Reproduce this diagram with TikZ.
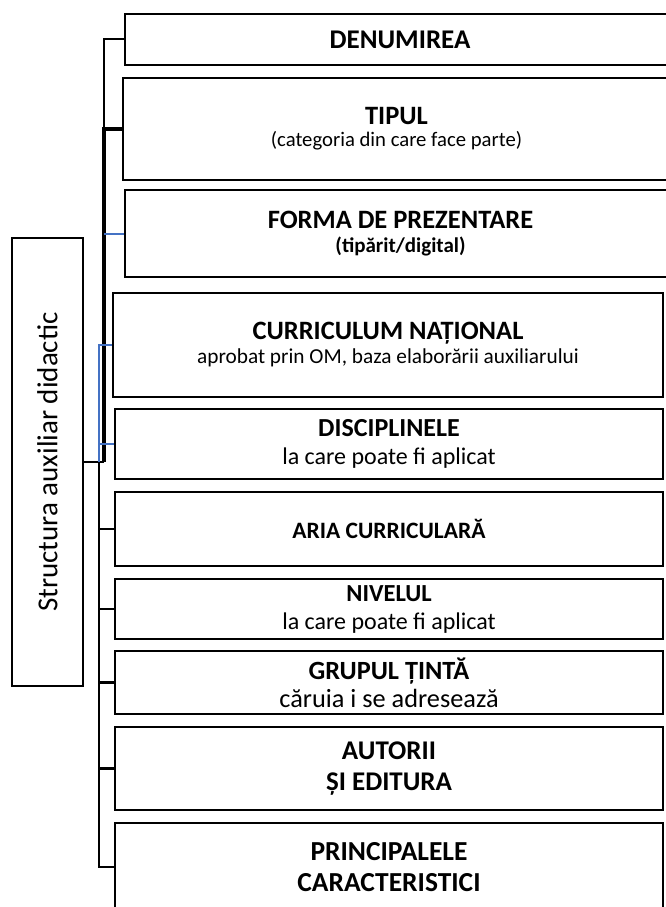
\documentclass[tikz,border=0pt]{standalone}
\usepackage{fontspec}
\setmainfont{Carlito}
\definecolor{linkblue}{RGB}{68,114,196}

\begin{document}
\begin{tikzpicture}[x=1pt,y=-1pt,
    box/.style={draw, line width=2.6pt, rectangle, minimum width=548, align=center, inner sep=0pt},
    link/.style={line width=2.4pt},
    bluelink/.style={draw=linkblue, line width=2pt},
    big/.style={font=\bfseries\fontsize{27}{31}\selectfont},
  ]
  \clip (0,0) rectangle (666,907);
  % root
  \node[box, line width=2.2pt, rotate=90, minimum width=448, minimum height=71, font=\fontsize{29}{35}\selectfont] (structura) at (47.5,462) {Structura auxiliar didactic};
  % items
  \node[box, minimum width=550, minimum height=51, big] (denumire) at (400,39.5) {DENUMIREA};
  \node[box, minimum width=547, minimum height=102, font=\fontsize{20.7}{22}\selectfont] (tip) at (396.5,129)
    {{\bfseries\fontsize{26.5}{31}\selectfont TIPUL}\\(categoria din care face parte)};
  \node[box, minimum width=551, minimum height=87, font=\bfseries\fontsize{21}{24}\selectfont] (forma) at (400.5,233.5)
    {{\fontsize{26.5}{31}\selectfont FORMA DE PREZENTARE}\\(tipărit/digital)};
  \node[box, minimum width=550, minimum height=104, font=\fontsize{21.3}{24}\selectfont] (curriculum) at (388,345)
    {{\bfseries\fontsize{26.5}{31}\selectfont CURRICULUM NAȚIONAL}\\aprobat prin OM, baza elaborării auxiliarului\rule[-4pt]{0pt}{4pt}};
  \node[box, minimum height=70, font=\fontsize{24}{28}\selectfont] (discipline) at (389,444)
    {{\bfseries\fontsize{26}{29}\selectfont DISCIPLINELE}\\la care poate fi aplicat};
  \node[box, minimum height=74, font=\bfseries\fontsize{23.5}{28}\selectfont] (arie) at (389,529) {ARIA CURRICULARĂ};
  \node[box, minimum height=60, font=\fontsize{24}{28}\selectfont] (nivel) at (389,609)
    {{\bfseries\fontsize{24.5}{29}\selectfont NIVELUL}\\la care poate fi aplicat};
  \node[box, minimum height=63, font=\fontsize{26.3}{28}\selectfont] (grup) at (389,682.5)
    {{\bfseries GRUPUL ȚINTĂ}\\căruia i se adresează};
  \node[box, minimum height=83, big] (autori) at (389,768.5) {AUTORII\\ȘI EDITURA};
  \node[box, minimum height=88, font=\bfseries\fontsize{27.5}{31}\selectfont] (caract) at (389,867) {PRINCIPALELE\\CARACTERISTICI};

  % connectors
  \coordinate (up) at (104,462);
  \coordinate (lo) at (99,462);
  \draw[link] (structura.south) -- (up);
  \draw[link, line width=2pt] (up) |- (denumire.west);
  \draw[link, line width=3.2pt] (up) |- (tip.west);
  \draw[bluelink] (up |- forma.west) -- (forma.west);
  \draw[bluelink] (curriculum.west) -| (lo);
  \draw[bluelink] (lo |- discipline.west) -- (discipline.west);
  \foreach \n in {arie,nivel,grup,autori,caract}
    \draw[link, line width=2.8pt] (lo) |- (\n.west);
\end{tikzpicture}
\end{document}
